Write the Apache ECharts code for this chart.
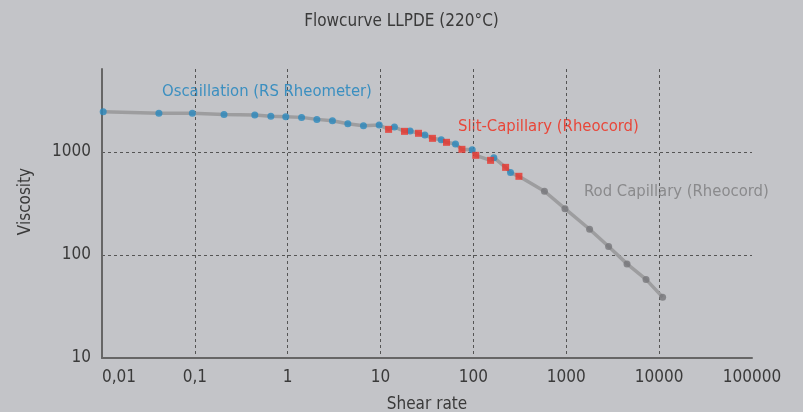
<!DOCTYPE html>
<html>
<head>
<meta charset="utf-8">
<script src="https://cdn.jsdelivr.net/npm/echarts@6/dist/echarts.min.js"></script>
<style>
  html, body { margin: 0; padding: 0; background: #c3c4c8; }
  #main { width: 803px; height: 412px; }
</style>
</head>
<body>
<div id="main"></div>
<script>
// shear rate / viscosity
const oscRate = [0.0103, 0.041, 0.094, 0.206, 0.442, 0.658, 0.953, 1.41, 2.06, 3.03, 4.44, 6.54, 9.66, 14.1, 20.8, 30.0, 45.0, 64.1, 97, 166, 251];
const oscVisc = [2460, 2380, 2380, 2320, 2286, 2220, 2200, 2170, 2075, 2013, 1885, 1800, 1830, 1750, 1600, 1463, 1316, 1196, 1052, 881, 632];

const slitRate = [12.2, 18.1, 25.6, 36.2, 51.3, 75.2, 106, 153, 222, 309];
const slitVisc = [1660, 1588, 1520, 1358, 1242, 1062, 929, 830, 710, 581];

const rodRate = [582, 968, 1783, 2857, 4510, 7226, 10900];
const rodVisc = [416, 282, 178, 121, 82, 58, 39];

const xTicks = [0.01, 0.1, 1, 10, 100, 1000, 10000, 100000];
const yTicks = [10, 100, 1000];

const font = "'Liberation Sans Narrow', 'DejaVu Sans Condensed', sans-serif";

function pairs(xs, ys) {
    return xs.map((x, i) => [x, ys[i]]);
}

let allPts = pairs(oscRate, oscVisc).concat(pairs(slitRate, slitVisc), pairs(rodRate, rodVisc));
allPts.sort((a, b) => a[0] - b[0]);

let myChart = echarts.init(document.getElementById('main'));
let option = {
    backgroundColor: '#c3c4c8',
    animation: false,
    textStyle: { fontFamily: font },
    title: {
        text: 'Flowcurve LLPDE (220°C)',
        left: 'center',
        top: 8,
        textStyle: { fontFamily: font, fontSize: 17, fontWeight: 'normal', color: '#3a3a3a' }
    },
    grid: { left: 102, right: 51, top: 69, bottom: 54, outerBoundsMode: 'none' },
    xAxis: {
        type: 'log',
        logBase: 10,
        min: xTicks[0],
        max: xTicks[xTicks.length - 1],
        name: 'Shear rate',
        nameLocation: 'middle',
        nameGap: 38,
        nameTextStyle: { fontFamily: font, fontSize: 17, color: '#3a3a3a' },
        axisLine: { lineStyle: { color: '#666', width: 2 } },
        axisTick: { show: false },
        axisLabel: {
            fontFamily: font, fontSize: 17, color: '#3a3a3a', margin: 11,
            alignMinLabel: 'left',
            formatter: v => String(Number(v.toPrecision(6))).replace('.', ',')
        },
        splitLine: { show: true, showMinLine: false, showMaxLine: false, lineStyle: { color: '#555', type: [3, 3], width: 1 } }
    },
    yAxis: {
        type: 'log',
        logBase: 10,
        min: yTicks[0],
        max: 6400,
        name: 'Viscosity',
        nameLocation: 'middle',
        nameGap: 68,
        nameTextStyle: { fontFamily: font, fontSize: 17, color: '#3a3a3a', padding: [0, 0, 0, 24] },
        axisLine: { show: true, lineStyle: { color: '#666', width: 2 } },
        axisTick: { show: false },
        axisLabel: {
            fontFamily: font, fontSize: 17, color: '#3a3a3a', margin: 11,
            showMaxLabel: false,
            formatter: v => String(Math.round(v))
        },
        splitLine: { show: true, showMinLine: false, showMaxLine: false, lineStyle: { color: '#555', type: [3, 3], width: 1 } }
    },
    graphic: [
        { type: 'text', left: 162, top: 83, style: { text: 'Oscaillation (RS Rheometer)', fill: '#3b8fc0', font: '16.5px ' + font } },
        { type: 'text', left: 458, top: 118, style: { text: 'Slit-Capillary (Rheocord)', fill: '#e8473a', font: '16.5px ' + font } },
        { type: 'text', left: 584, top: 183, style: { text: 'Rod Capillary (Rheocord)', fill: '#8a8a8c', font: '16.5px ' + font } }
    ],
    series: [
        {
            name: 'curve',
            type: 'line',
            data: allPts,
            showSymbol: false,
            lineStyle: { color: '#9d9d9f', width: 3.5 },
            z: 1
        },
        {
            name: 'Oscillation',
            type: 'scatter',
            data: pairs(oscRate, oscVisc),
            symbol: 'circle',
            symbolSize: 7,
            itemStyle: { color: '#2a88bd' },
            z: 3
        },
        {
            name: 'Slit',
            type: 'scatter',
            data: pairs(slitRate, slitVisc),
            symbol: 'rect',
            symbolSize: 7,
            itemStyle: { color: '#e8332a' },
            z: 4
        },
        {
            name: 'Rod',
            type: 'scatter',
            data: pairs(rodRate, rodVisc),
            symbol: 'circle',
            symbolSize: 7,
            itemStyle: { color: '#77777a' },
            z: 3
        }
    ]
};
myChart.setOption(option);
</script>
</body>
</html>
